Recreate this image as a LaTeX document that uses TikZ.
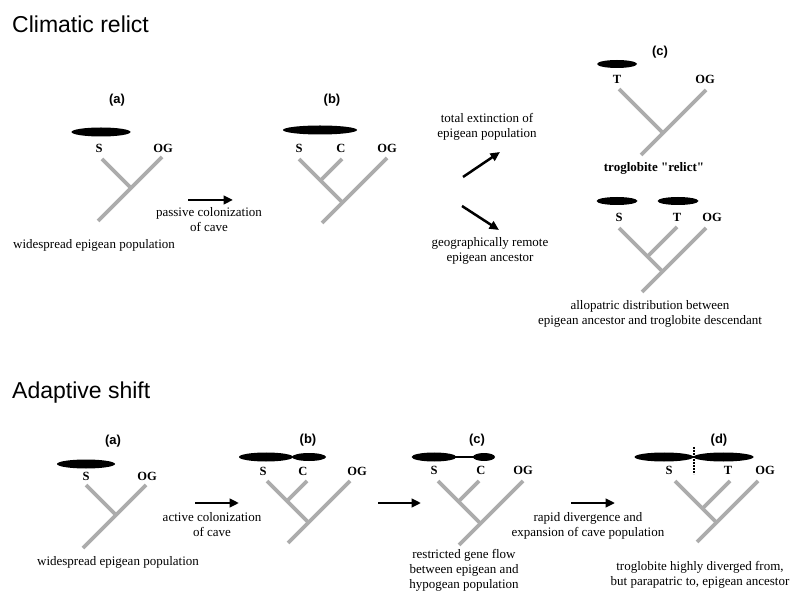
\documentclass[tikz,border=0pt]{standalone}
\usepackage{fontspec}
\setmainfont{Liberation Serif}
\newfontfamily\rawserif{Liberation Serif}
\newfontfamily\headfont{Liberation Sans}
\usetikzlibrary{arrows.meta}
\definecolor{treegray}{RGB}{172,172,172}
\begin{document}
\begin{tikzpicture}[x=1pt,y=-1pt,
  branch/.style={draw=treegray, line width=3.7pt},
  move/.style={draw=black, line width=2.5pt, -{Triangle[length=9.5pt,width=8.5pt]}},
  heading/.style={font=\headfont\fontsize{23}{27}\selectfont, anchor=base west, inner sep=0pt},
  panel/.style={font=\headfont\bfseries\fontsize{13}{15}\selectfont, inner sep=0pt},
  taxon/.style={font=\bfseries\fontsize{12.5}{14}\selectfont, inner sep=0pt},
  caption/.style={font=\fontsize{13}{15}\selectfont, align=center, inner sep=0pt},
]
\useasboundingbox[fill=white] (0,0) rectangle (790,593);

% ---------------- Climatic relict ----------------
\node[heading] (t1) at (12,33) {Climatic relict};

% (a) widespread epigean population
\node[panel] (ca) at (117,100) {(a)};
\fill (101,132) ellipse [x radius=29.5, y radius=4.5];
\node[taxon] (caS) at (99,148) {S};
\node[taxon] (caO) at (163,148) {OG};
\draw[branch] (162,157) -- (98,221);
\draw[branch] (102,159) -- (131,188);
\node[caption] (caT) at (94,245) {widespread epigean population};

\draw[move] (188,200) -- (233,200);
\node[caption] (cm1) at (209,220) {passive colonization\\of cave};

% (b) cave colonized
\node[panel] (cb) at (332,100) {(b)};
\fill (320,130) ellipse [x radius=37, y radius=4.5];
\node[taxon] (cbS) at (299,148) {S};
\node[taxon] (cbC) at (341,148) {C};
\node[taxon] (cbO) at (387,148) {OG};
\draw[branch] (387,158) -- (322,223);
\draw[branch] (299,159) -- (343,203);
\draw[branch] (342,159) -- (320.5,180.5);

% two outcomes
\draw[move] (463,177) -- (500,152);
\node[caption] (cm2) at (487,126.5) {total extinction of\\epigean population};
\draw[move] (462,206) -- (499,230);
\node[caption] (cm3) at (490,250.5) {geographically remote\\epigean ancestor};

% (c) troglobite relict
\node[panel] (cc) at (660,52) {(c)};
\fill (617,64) ellipse [x radius=20, y radius=4];
\node[taxon] (ccT) at (617,79) {T};
\node[taxon] (ccO) at (705,79) {OG};
\draw[branch] (706,90) -- (641,155);
\draw[branch] (619,89) -- (664,134);
\node[caption, font=\rawserif\bfseries\fontsize{13}{15}\selectfont] (ccR) at (654,168) {troglobite "relict"};

% (c) allopatric pair
\fill (617,201) ellipse [x radius=20.5, y radius=4];
\fill (678,201) ellipse [x radius=20.5, y radius=4];
\node[taxon] (cdS) at (619,217) {S};
\node[taxon] (cdT) at (677,217) {T};
\node[taxon] (cdO) at (712,217) {OG};
\draw[branch] (706,228) -- (642,292);
\draw[branch] (619,228) -- (663.5,272.5);
\draw[branch] (677,227) -- (647.5,256.5);
\node[caption] (cdA) at (650,313.5) {allopatric distribution between\\epigean ancestor and troglobite descendant};

% ---------------- Adaptive shift ----------------
\node[heading] (t2) at (12,399) {Adaptive shift};

% (a)
\node[panel] (aa) at (113,441) {(a)};
\fill (86,464) ellipse [x radius=29, y radius=4.5];
\node[taxon] (aaS) at (86,476) {S};
\node[taxon] (aaO) at (147,476) {OG};
\draw[branch] (146,485) -- (83,548);
\draw[branch] (86,485) -- (116.5,515.5);
\node[caption] (aaT) at (118,562) {widespread epigean population};

\draw[move] (195,503) -- (239,503);
\node[caption] (am1) at (212,524.5) {active colonization\\of cave};

% (b)
\node[panel] (ab) at (308,440) {(b)};
\fill (266,457) ellipse [x radius=27, y radius=4.5];
\fill (309,457) ellipse [x radius=17, y radius=4];
\node[taxon] (abS) at (263,471) {S};
\node[taxon] (abC) at (303,471) {C};
\node[taxon] (abO) at (357,471) {OG};
\draw[branch] (350,481) -- (288,543);
\draw[branch] (267,481) -- (309,523);
\draw[branch] (307,481) -- (287,501);

\draw[move] (378,503) -- (421,503);

% (c)
\node[panel] (ac) at (477,440) {(c)};
\fill (434,457) ellipse [x radius=22.5, y radius=4.5];
\draw[line width=2pt] (452,457) -- (478,457);
\fill (484,457) ellipse [x radius=11, y radius=4];
\node[taxon] (acS) at (434,470) {S};
\node[taxon] (acC) at (481,470) {C};
\node[taxon] (acO) at (523,470) {OG};
\draw[branch] (523,481) -- (459,545);
\draw[branch] (438,481) -- (481,524);
\draw[branch] (479,481) -- (458.5,501.5);
\node[caption] (acT) at (464,570) {restricted gene flow\\between epigean and\\hypogean population};

\draw[move] (571,503) -- (615,503);
\node[caption] (am2) at (588,525.5) {rapid divergence and\\expansion of cave population};

% (d)
\node[panel] (ad) at (719,440) {(d)};
\fill (664,457) ellipse [x radius=29.5, y radius=4.5];
\fill (723.5,457) ellipse [x radius=30, y radius=4.5];
\draw[line width=1.6pt, dash pattern=on 1.6pt off 1.4pt] (694,447) -- (694,474);
\node[taxon] (adS) at (669,470) {S};
\node[taxon] (adT) at (728,470) {T};
\node[taxon] (adO) at (765,470) {OG};
\draw[branch] (758,481) -- (697,542);
\draw[branch] (675,481) -- (717,523);
\draw[branch] (730,481) -- (702.5,508.5);
\node[caption] (adT2) at (700,574.5) {troglobite highly diverged from,\\but parapatric to, epigean ancestor};

\end{tikzpicture}
\end{document}
